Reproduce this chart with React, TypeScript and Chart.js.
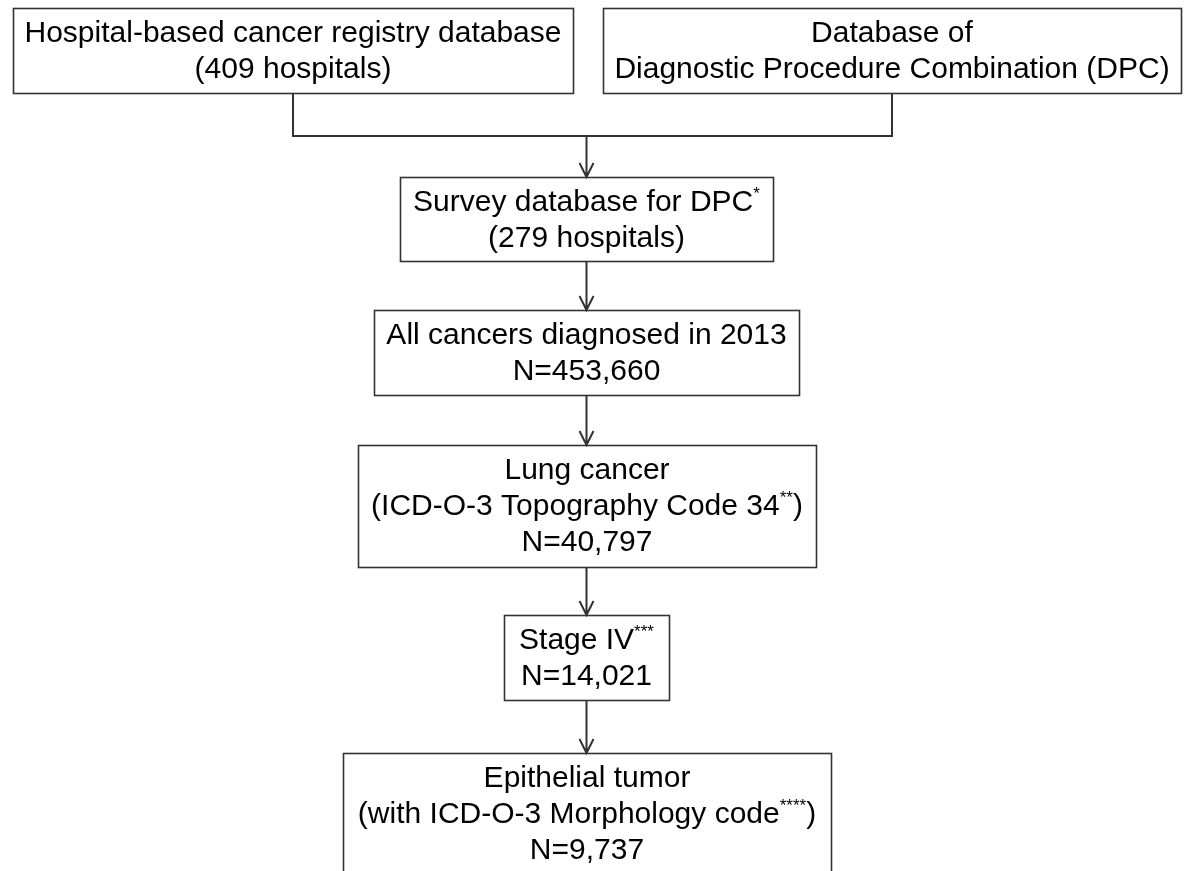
import React, { useEffect, useRef } from "react";
import { Chart, registerables } from "chart.js";

Chart.register(...registerables);

// ---- content (data) ----
const stepTitles: string[][] = [
  ["Hospital-based cancer registry database"],
  ["Database of", "Diagnostic Procedure Combination (DPC)"],
  ["Survey database for DPC^*"],
  ["All cancers diagnosed in 2013"],
  ["Lung cancer", "(ICD-O-3 Topography Code 34^**)"],
  ["Stage IV^***"],
  ["Epithelial tumor", "(with ICD-O-3 Morphology code^****)"],
];
const hospitalCounts: (number | null)[] = [409, null, 279, null, null, null, null];
const patientCounts: (number | null)[] = [null, null, null, 453660, 40797, 14021, 9737];

// ---- layout (positions in chart units, kept separate from data) ----
const W = 1184;
const H = 871;
const boxLeft = [13, 603, 400, 374, 358, 504, 343];
const boxRight = [573, 1181, 773, 799, 816, 669, 831];
const boxTop = [8, 8, 177, 310, 445, 615, 753];
const boxBottom = [93, 93, 261, 395, 567, 700, 900];
const mergeY = 136;
const FONT = '"Liberation Sans", Arial, Helvetica, sans-serif';
const FONT_SIZE = 30;
const SUP_SIZE = 17;
const LINE_GAP = 36;
const FIRST_LINE = 26;
const STROKE = "#333333";

function linesFor(i: number): string[] {
  const out = [...stepTitles[i]];
  if (hospitalCounts[i] != null) out.push(`(${hospitalCounts[i]} hospitals)`);
  if (patientCounts[i] != null) out.push(`N=${(patientCounts[i] as number).toLocaleString("en-US")}`);
  return out;
}

function parseLine(s: string): { t: string; sup: boolean }[] {
  const m = s.match(/^(.*?)\^(\*+)(.*)$/);
  if (!m) return [{ t: s, sup: false }];
  return [
    { t: m[1], sup: false },
    { t: m[2], sup: true },
    { t: m[3], sup: false },
  ].filter((p) => p.t.length > 0);
}

const flowPlugin = {
  id: "flowPlugin",
  afterDatasetsDraw(chart: any) {
    const ctx: CanvasRenderingContext2D = chart.ctx;
    const xs = chart.scales.x;
    const ys = chart.scales.y;
    const px = (v: number) => xs.getPixelForValue(v);
    const py = (v: number) => ys.getPixelForValue(v);

    ctx.save();
    ctx.strokeStyle = STROKE;
    ctx.lineWidth = 1.6;
    ctx.fillStyle = "#000";

    // boxes
    for (let i = 0; i < stepTitles.length; i++) {
      const x0 = px(boxLeft[i]);
      const x1 = px(boxRight[i]);
      const y0 = py(boxTop[i]);
      const y1 = py(boxBottom[i]);
      ctx.strokeRect(Math.round(x0) + 0.5, Math.round(y0) + 0.5, Math.round(x1 - x0), Math.round(y1 - y0));

      const cx = (x0 + x1) / 2;
      const lines = linesFor(i);
      lines.forEach((ln, k) => {
        const y = py(boxTop[i] + FIRST_LINE + k * LINE_GAP);
        const parts = parseLine(ln);
        let total = 0;
        const widths = parts.map((p) => {
          ctx.font = `${p.sup ? SUP_SIZE : FONT_SIZE}px ${FONT}`;
          const w = ctx.measureText(p.t).width;
          total += w;
          return w;
        });
        let x = cx - total / 2;
        ctx.textBaseline = "middle";
        ctx.textAlign = "left";
        parts.forEach((p, j) => {
          ctx.font = `${p.sup ? SUP_SIZE : FONT_SIZE}px ${FONT}`;
          ctx.fillText(p.t, x, p.sup ? y - 9 : y);
          x += widths[j];
        });
      });
    }

    // connectors
    ctx.lineWidth = 2;
    const c0 = (boxLeft[0] + boxRight[0]) / 2;
    const c1 = (boxLeft[1] + boxRight[1]) / 2;
    const mid = (boxLeft[2] + boxRight[2]) / 2;
    ctx.beginPath();
    ctx.moveTo(px(c0), py(boxBottom[0]));
    ctx.lineTo(px(c0), py(mergeY));
    ctx.lineTo(px(c1), py(mergeY));
    ctx.lineTo(px(c1), py(boxBottom[1]));
    ctx.stroke();

    const arrow = (x: number, yA: number, yB: number) => {
      const X = px(x);
      const A = py(yA);
      const B = py(yB);
      ctx.beginPath();
      ctx.moveTo(X, A);
      ctx.lineTo(X, B);
      ctx.moveTo(X - 7, B - 14);
      ctx.lineTo(X, B);
      ctx.lineTo(X + 7, B - 14);
      ctx.stroke();
    };
    arrow(mid, mergeY, boxTop[2]);
    for (let i = 2; i < stepTitles.length - 1; i++) {
      arrow(mid, boxBottom[i], boxTop[i + 1]);
    }
    ctx.restore();
  },
};

export default function App() {
  const ref = useRef<HTMLCanvasElement | null>(null);
  useEffect(() => {
    document.body.style.margin = "0";
    const canvas = ref.current!;
    const chart = new Chart(canvas, {
      type: "scatter",
      data: {
        datasets: [
          {
            label: "steps",
            data: stepTitles.map((_, i) => ({
              x: (boxLeft[i] + boxRight[i]) / 2,
              y: (boxTop[i] + boxBottom[i]) / 2,
            })),
            pointRadius: 0,
          },
        ],
      },
      options: {
        animation: false,
        responsive: false,
        layout: { padding: 0 },
        plugins: { legend: { display: false }, tooltip: { enabled: false } },
        scales: {
          x: { type: "linear", min: 0, max: W, display: false },
          y: { type: "linear", min: 0, max: H, reverse: true, display: false },
        },
      },
      plugins: [flowPlugin],
    });
    return () => chart.destroy();
  }, []);
  return (
    <div style={{ width: W, height: H, background: "#fff" }}>
      <canvas ref={ref} width={W} height={H} style={{ display: "block" }} />
    </div>
  );
}
